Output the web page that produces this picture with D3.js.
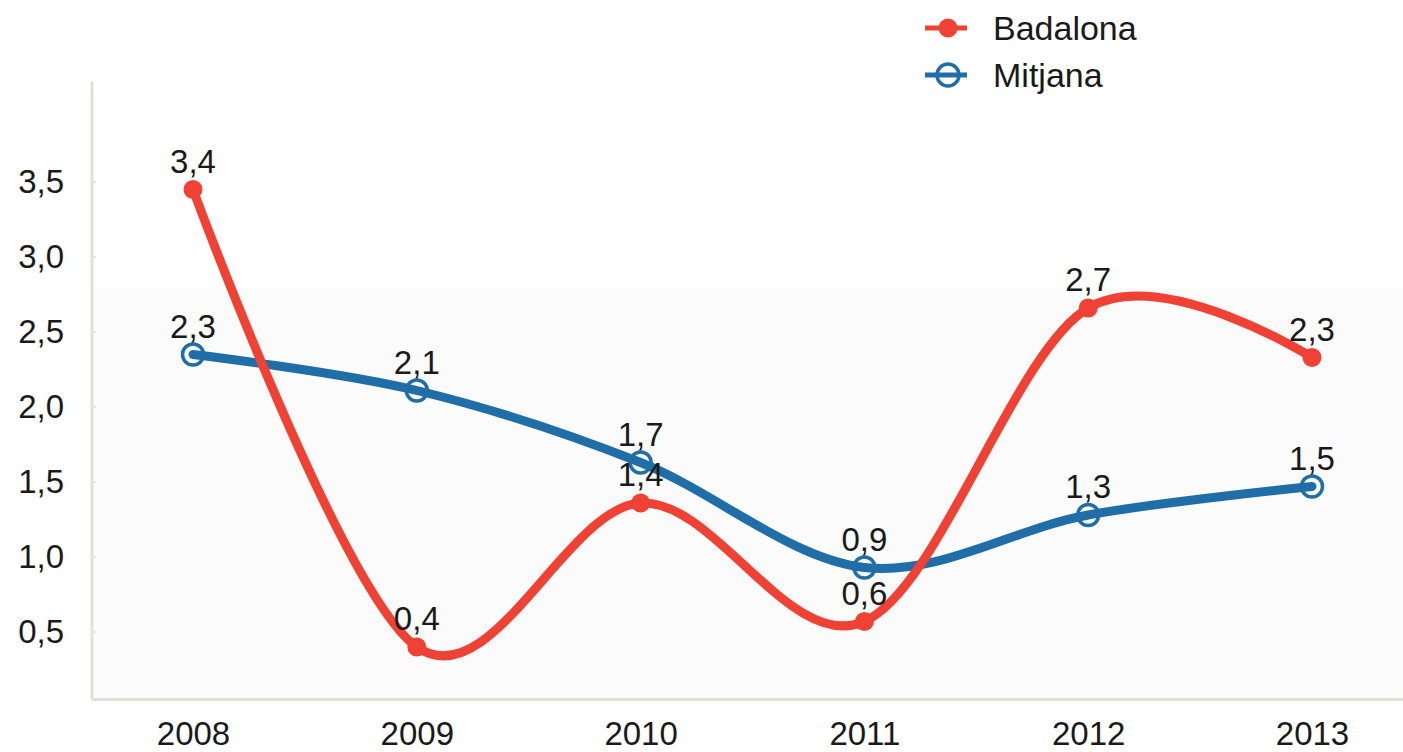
<!DOCTYPE html>
<html><head><meta charset="utf-8">
<script src="https://cdn.jsdelivr.net/npm/d3@7"></script>
<style>
body{margin:0;background:#fff;}
svg{display:block;}
text{font-family:"Liberation Sans",Arial,sans-serif;fill:#1a1a1a;}
</style>
</head><body>
<svg id="c" width="1403" height="752"></svg>
<script>
const years = ["2008","2009","2010","2011","2012","2013"];
const badalona = [3.45, 0.40, 1.36, 0.57, 2.66, 2.33];
const mitjana = [2.35, 2.11, 1.63, 0.93, 1.28, 1.47];
const badalonaLabels = ["3,4","0,4","1,4","0,6","2,7","2,3"];
const mitjanaLabels = ["2,3","2,1","1,7","0,9","1,3","1,5"];
const yTicks = [0.5, 1.0, 1.5, 2.0, 2.5, 3.0, 3.5];
const seriesNames = ["Badalona", "Mitjana"];

const RED = "#ef4234", BLUE = "#1f6ea8", AXIS = "#e3dfd6";
const svg = d3.select("#c");

const x = d3.scalePoint().domain(years).range([193, 1312]);
const y = d3.scaleLinear().domain([0.5, 3.5]).range([632, 182]);
const axisX0 = 92, axisY0 = y(0.05), axisTop = y(4.17);

// faint background band
svg.append("rect").attr("x", axisX0 + 2).attr("y", y(2.79))
  .attr("width", 1403 - axisX0 - 2).attr("height", axisY0 - y(2.79))
  .attr("fill", "#fbfbfb");

// axis lines
svg.append("line").attr("x1", axisX0).attr("x2", axisX0).attr("y1", axisTop).attr("y2", axisY0)
  .attr("stroke", AXIS).attr("stroke-width", 3);
svg.append("line").attr("x1", axisX0).attr("x2", 1403).attr("y1", axisY0).attr("y2", axisY0)
  .attr("stroke", AXIS).attr("stroke-width", 3);

// y axis
const yAxis = d3.axisLeft(y).tickValues(yTicks).tickSize(0).tickPadding(28)
  .tickFormat(d => d3.format(".1f")(d).replace(".", ","));
const gy = svg.append("g").attr("transform", `translate(${axisX0},0)`).call(yAxis);
gy.select(".domain").remove();
gy.selectAll("text").attr("font-size", 33).style("font-family", "'Liberation Sans',Arial,sans-serif").attr("fill", "#1a1a1a");
// small tick marks
svg.append("g").selectAll("line").data(yTicks).join("line")
  .attr("x1", axisX0 - 2).attr("x2", axisX0 + 4).attr("y1", d => y(d)).attr("y2", d => y(d))
  .attr("stroke", "#ebe3dc").attr("stroke-width", 2);

// x axis
const xAxis = d3.axisBottom(x).tickSize(0).tickPadding(22);
const gx = svg.append("g").attr("transform", `translate(0,${axisY0})`).call(xAxis);
gx.select(".domain").remove();
gx.selectAll("text").attr("font-size", 33).style("font-family", "'Liberation Sans',Arial,sans-serif").attr("fill", "#1a1a1a");

const line = d3.line().x((d, i) => x(years[i])).y(d => y(d)).curve(d3.curveCardinal.tension(0));

// Mitjana (below)
svg.append("path").attr("d", line(mitjana)).attr("fill", "none")
  .attr("stroke", BLUE).attr("stroke-width", 9).attr("stroke-linejoin", "round").attr("stroke-linecap", "round");
svg.append("g").selectAll("circle").data(mitjana).join("circle")
  .attr("cx", (d, i) => x(years[i])).attr("cy", d => y(d)).attr("r", 10.5)
  .attr("fill", "none").attr("stroke", BLUE).attr("stroke-width", 3.5);

// Badalona (on top)
svg.append("path").attr("d", line(badalona)).attr("fill", "none")
  .attr("stroke", RED).attr("stroke-width", 9).attr("stroke-linejoin", "round").attr("stroke-linecap", "round");
svg.append("g").selectAll("circle").data(badalona).join("circle")
  .attr("cx", (d, i) => x(years[i])).attr("cy", d => y(d)).attr("r", 9.5)
  .attr("fill", RED);

// data labels
function labels(vals, labs) {
  svg.append("g").selectAll("text").data(vals).join("text")
    .attr("x", (d, i) => x(years[i])).attr("y", d => y(d) - 17)
    .attr("text-anchor", "middle").attr("font-size", 33)
    .text((d, i) => labs[i]);
}
labels(mitjana, mitjanaLabels);
labels(badalona, badalonaLabels);

// legend
const lg = svg.append("g");
const legendRows = [{name: seriesNames[0], color: RED, cy: 28, filled: true},
                    {name: seriesNames[1], color: BLUE, cy: 75, filled: false}];
legendRows.forEach(r => {
  lg.append("line").attr("x1", 925).attr("x2", 967).attr("y1", r.cy).attr("y2", r.cy)
    .attr("stroke", r.color).attr("stroke-width", 5);
  if (r.filled) {
    lg.append("circle").attr("cx", 948).attr("cy", r.cy).attr("r", 9.5).attr("fill", r.color);
  } else {
    lg.append("circle").attr("cx", 948).attr("cy", r.cy).attr("r", 11).attr("fill", "none")
      .attr("stroke", r.color).attr("stroke-width", 3.5);
  }
  lg.append("text").attr("x", 993).attr("y", r.cy + 12).attr("font-size", 34).text(r.name);
});
</script>
</body></html>
